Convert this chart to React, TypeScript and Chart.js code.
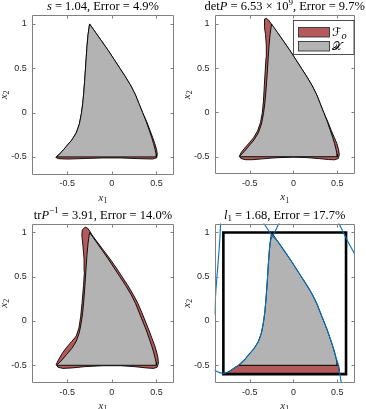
import React, { useEffect, useRef } from 'react';
import { Chart, registerables } from 'chart.js';

Chart.register(...registerables);

type Pt = [number, number];
type Run = { t: string; it?: boolean; sup?: boolean; sub?: boolean };

// ---------- axes / ticks ----------
const X_MIN = -0.9;
const X_MAX = 0.7;
const Y_MIN = -0.7;
const Y_MAX = 1.1;
const X_TICKS = [-0.5, 0, 0.5];
const Y_TICKS = [-0.5, 0, 0.5, 1];

// ---------- the set X (grey), same in every panel ----------
const SET_X: Pt[] = [
  [-0.25, 1.0], [-0.18, 0.9], [-0.11, 0.8], [-0.04, 0.7], [0.025, 0.6], [0.09, 0.5],
  [0.155, 0.4], [0.215, 0.3], [0.265, 0.2], [0.305, 0.1], [0.345, 0.0], [0.385, -0.1],
  [0.42, -0.2], [0.447, -0.28], [0.468, -0.35], [0.486, -0.42], [0.497, -0.47], [0.5, -0.5],
  [0.2, -0.5], [-0.2, -0.5], [-0.62, -0.5],
  [-0.56, -0.44], [-0.51, -0.38], [-0.45, -0.31], [-0.4, -0.23], [-0.365, -0.13],
  [-0.342, -0.01], [-0.327, 0.1], [-0.316, 0.22], [-0.306, 0.35], [-0.297, 0.48],
  [-0.288, 0.62], [-0.279, 0.75], [-0.267, 0.88], [-0.25, 1.0],
];

// ---------- outer approximations F_o (red) ----------
const FO_S: Pt[] = [
  [-0.25, 1.0], [-0.18, 0.9], [-0.11, 0.8], [-0.04, 0.7], [0.025, 0.6], [0.09, 0.5],
  [0.155, 0.4], [0.215, 0.3], [0.265, 0.2], [0.305, 0.1], [0.345, 0.0], [0.39, -0.1],
  [0.428, -0.2], [0.458, -0.28], [0.482, -0.35], [0.503, -0.42], [0.51, -0.47],
  [0.503, -0.51], [0.46, -0.524], [0.3, -0.52], [0.1, -0.512], [-0.1, -0.512],
  [-0.3, -0.518], [-0.5, -0.525], [-0.6, -0.52], [-0.63, -0.505],
  [-0.56, -0.44], [-0.51, -0.38], [-0.45, -0.31], [-0.4, -0.23], [-0.365, -0.13],
  [-0.342, -0.01], [-0.327, 0.1], [-0.316, 0.22], [-0.306, 0.35], [-0.297, 0.48],
  [-0.288, 0.62], [-0.279, 0.75], [-0.267, 0.88], [-0.25, 1.0],
];

const FO_DET: Pt[] = [
  [-0.31, 1.062], [-0.285, 1.045], [-0.26, 1.01], [-0.235, 0.97], [-0.21, 0.935],
  [-0.18, 0.9], [-0.11, 0.8], [-0.04, 0.7], [0.025, 0.6], [0.09, 0.5], [0.155, 0.4],
  [0.215, 0.3], [0.265, 0.2], [0.305, 0.1], [0.345, 0.0], [0.39, -0.1], [0.43, -0.2],
  [0.465, -0.28], [0.495, -0.35], [0.515, -0.42], [0.523, -0.48], [0.512, -0.52],
  [0.47, -0.535], [0.4, -0.532], [0.3, -0.522], [0.15, -0.51], [0.0, -0.505],
  [-0.2, -0.512], [-0.35, -0.524], [-0.47, -0.534], [-0.55, -0.534], [-0.6, -0.52],
  [-0.615, -0.49], [-0.595, -0.45], [-0.555, -0.4], [-0.505, -0.345], [-0.455, -0.285],
  [-0.41, -0.21], [-0.375, -0.11], [-0.355, 0.0], [-0.343, 0.12], [-0.333, 0.3],
  [-0.322, 0.48], [-0.313, 0.62], [-0.31, 0.76], [-0.319, 0.88], [-0.332, 0.97],
  [-0.335, 1.03], [-0.325, 1.055], [-0.31, 1.062],
];

const FO_TR: Pt[] = [
  [-0.3, 1.06], [-0.272, 1.048], [-0.245, 1.01], [-0.215, 0.96], [-0.17, 0.9],
  [-0.095, 0.8], [-0.02, 0.7], [0.05, 0.6], [0.115, 0.5], [0.18, 0.4], [0.24, 0.3],
  [0.292, 0.2], [0.335, 0.1], [0.375, 0.0], [0.415, -0.1], [0.452, -0.2], [0.482, -0.28],
  [0.503, -0.35], [0.518, -0.42], [0.523, -0.48], [0.508, -0.522], [0.47, -0.535],
  [0.39, -0.53], [0.25, -0.515], [0.1, -0.505], [-0.1, -0.505], [-0.3, -0.515],
  [-0.45, -0.53], [-0.55, -0.535], [-0.605, -0.522], [-0.625, -0.49], [-0.6, -0.44],
  [-0.56, -0.37], [-0.51, -0.3], [-0.45, -0.23], [-0.4, -0.17], [-0.37, -0.08],
  [-0.35, 0.05], [-0.335, 0.2], [-0.318, 0.4], [-0.308, 0.56], [-0.312, 0.7],
  [-0.325, 0.85], [-0.337, 0.97], [-0.332, 1.03], [-0.3, 1.06],
];

const FO_L1_STRIP: Pt[] = [
  [-0.8, -0.6], [0.53, -0.6], [0.515, -0.5], [-0.625, -0.5], [-0.66, -0.52],
  [-0.7, -0.548], [-0.75, -0.578], [-0.8, -0.6],
];
const FO_L1_TIP: Pt[] = [[-0.268, 1.0], [-0.212, 1.0], [-0.237, 0.96], [-0.268, 1.0]];
const FO_L1_CORNER: Pt[] = [[0.57, 1.0], [0.6, 1.0], [0.6, 0.94], [0.57, 1.0]];

// ---------- l1 panel: box and level curves ----------
const L1_BOX: Pt[] = [[-0.8, -0.6], [0.6, -0.6], [0.6, 1.0], [-0.8, 1.0], [-0.8, -0.6]];
const L1_CURVE_LEFT: Pt[] = [[-0.9, 0.08], [-0.885, 0.35], [-0.865, 0.6], [-0.845, 0.85], [-0.83, 1.12]];
const L1_CURVE_WEST: Pt[] = [
  [-0.95, -0.55], [-0.9, -0.56], [-0.85, -0.58], [-0.8, -0.59], [-0.75, -0.578],
  [-0.7, -0.548], [-0.66, -0.52], [-0.625, -0.495], [-0.56, -0.44], [-0.51, -0.38],
  [-0.45, -0.31], [-0.4, -0.23], [-0.365, -0.13], [-0.342, -0.01], [-0.327, 0.1],
  [-0.316, 0.22], [-0.306, 0.35], [-0.297, 0.48], [-0.288, 0.62], [-0.279, 0.75],
  [-0.267, 0.88], [-0.245, 0.95], [-0.2, 1.03], [-0.16, 1.12],
];
const L1_CURVE_EAST: Pt[] = [
  [-0.35, 1.12], [-0.29, 1.03], [-0.235, 0.955], [-0.18, 0.9], [-0.11, 0.8],
  [-0.04, 0.7], [0.025, 0.6], [0.09, 0.5], [0.155, 0.4], [0.215, 0.3], [0.265, 0.2],
  [0.305, 0.1], [0.345, 0.0], [0.385, -0.1], [0.42, -0.2], [0.447, -0.28], [0.468, -0.35],
  [0.488, -0.42], [0.505, -0.47], [0.515, -0.52], [0.53, -0.6], [0.55, -0.72],
];
const L1_CURVE_RIGHT: Pt[] = [[0.51, 1.12], [0.57, 1.0], [0.63, 0.88], [0.68, 0.79], [0.72, 0.71]];

// ---------- texts ----------
const TITLE_S: Run[] = [{ t: 's', it: true }, { t: ' = 1.04, Error = 4.9%' }];
const TITLE_DET: Run[] = [
  { t: 'det' }, { t: 'P', it: true }, { t: ' = 6.53 × 10' }, { t: '9', sup: true },
  { t: ', Error = 9.7%' },
];
const TITLE_TR: Run[] = [
  { t: 'tr' }, { t: 'P', it: true }, { t: '−1', sup: true }, { t: ' = 3.91, Error = 14.0%' },
];
const TITLE_L1: Run[] = [{ t: 'l', it: true }, { t: '1', sub: true }, { t: ' = 1.68, Error = 17.7%' }];
const X_LABEL: Run[] = [{ t: 'x', it: true }, { t: '1', sub: true }];
const Y_LABEL: Run[] = [{ t: 'x', it: true }, { t: '2', sub: true }];
const LEGEND_FO: Run[] = [{ t: 'ℱ' }, { t: 'o', sub: true, it: true }];
const LEGEND_X: Run[] = [{ t: '𝒳' }];

// ---------- styles ----------
const RED = '#b55a5a';
const GREY = '#b3b3b3';
const BLUE = '#0072bd';
const AXIS = '#808080';
const SERIF = '"Liberation Serif", "Times New Roman", serif';
const SANS = '"Liberation Sans", Arial, sans-serif';
const W = 366;
const H = 409;

type Area = { left: number; top: number; right: number; bottom: number };
type PanelCfg = { area: Area; title: Run[]; datasets: any[]; legend?: boolean };

function runFont(r: Run, size: number, family: string) {
  const s = r.sup || r.sub ? size * 0.72 : size;
  return `${r.it ? 'italic ' : ''}${s}px ${family}`;
}
function runsWidth(ctx: CanvasRenderingContext2D, runs: Run[], size: number, family: string) {
  let w = 0;
  for (const r of runs) {
    ctx.font = runFont(r, size, family);
    w += ctx.measureText(r.t).width;
  }
  return w;
}
function drawRuns(
  ctx: CanvasRenderingContext2D, runs: Run[], x: number, y: number, size: number,
  family: string, align: 'center' | 'left', color: string,
) {
  let cx = align === 'center' ? x - runsWidth(ctx, runs, size, family) / 2 : x;
  ctx.fillStyle = color;
  ctx.textAlign = 'left';
  ctx.textBaseline = 'alphabetic';
  for (const r of runs) {
    ctx.font = runFont(r, size, family);
    const dy = r.sup ? -size * 0.42 : r.sub ? size * 0.22 : 0;
    ctx.fillText(r.t, cx, y + dy);
    cx += ctx.measureText(r.t).width;
  }
}

const pts = (a: Pt[]) => a.map(([x, y]) => ({ x, y }));
function patch(a: Pt[], color: string, order: number) {
  return {
    data: pts(a), showLine: true, fill: 'shape', backgroundColor: color,
    borderColor: '#000', borderWidth: 0.9, pointRadius: 0, tension: 0, order,
    borderJoinStyle: 'round',
  };
}
function curve(a: Pt[], color: string, width: number, order: number, tension = 0.2) {
  return {
    data: pts(a), showLine: true, fill: false, borderColor: color, borderWidth: width,
    pointRadius: 0, tension, order, borderCapStyle: 'square', borderJoinStyle: 'miter',
  };
}

const PANELS: PanelCfg[] = [
  {
    area: { left: 31.7, top: 15.1, right: 174.2, bottom: 174.6 },
    title: TITLE_S,
    datasets: [patch(SET_X, GREY, 2), patch(FO_S, RED, 3)],
  },
  {
    area: { left: 214.6, top: 15.1, right: 354.8, bottom: 174.4 },
    title: TITLE_DET,
    legend: true,
    datasets: [patch(SET_X, GREY, 2), patch(FO_DET, RED, 3)],
  },
  {
    area: { left: 31.7, top: 223.6, right: 174.2, bottom: 383 },
    title: TITLE_TR,
    datasets: [patch(SET_X, GREY, 2), patch(FO_TR, RED, 3)],
  },
  {
    area: { left: 214.6, top: 223.6, right: 354.8, bottom: 383 },
    title: TITLE_L1,
    datasets: [
      curve(L1_CURVE_LEFT, BLUE, 1.1, 0),
      curve(L1_CURVE_WEST, BLUE, 1.1, 0),
      curve(L1_CURVE_EAST, BLUE, 1.1, 0),
      curve(L1_CURVE_RIGHT, BLUE, 1.1, 0),
      curve(L1_BOX, '#000', 2.6, 1, 0),
      patch(SET_X, GREY, 2),
      patch(FO_L1_STRIP, RED, 3),
      patch(FO_L1_TIP, RED, 3),
      patch(FO_L1_CORNER, RED, 3),
    ],
  },
];

function makeDecor(cfg: PanelCfg) {
  return {
    id: 'decor',
    afterDraw(chart: any) {
      const ctx: CanvasRenderingContext2D = chart.ctx;
      const { left, top, right, bottom } = chart.chartArea;
      const xs = chart.scales.x;
      const ys = chart.scales.y;
      ctx.save();
      // box
      const L = Math.round(left) + 0.5;
      const R = Math.round(right) - 0.5;
      const T = Math.round(top) + 0.5;
      const B = Math.round(bottom) - 0.5;
      ctx.strokeStyle = AXIS;
      ctx.lineWidth = 1;
      ctx.beginPath();
      ctx.rect(L, T, R - L, B - T);
      ctx.stroke();
      // inward ticks
      const tl = 3;
      ctx.beginPath();
      for (const v of X_TICKS) {
        const px = Math.round(xs.getPixelForValue(v)) + 0.5;
        ctx.moveTo(px, B); ctx.lineTo(px, B - tl);
        ctx.moveTo(px, T); ctx.lineTo(px, T + tl);
      }
      for (const v of Y_TICKS) {
        const py = Math.round(ys.getPixelForValue(v)) + 0.5;
        ctx.moveTo(L, py); ctx.lineTo(L + tl, py);
        ctx.moveTo(R, py); ctx.lineTo(R - tl, py);
      }
      ctx.stroke();
      // title
      drawRuns(ctx, cfg.title, (left + right) / 2, top - 5, 12.5, SERIF, 'center', '#000');
      // axis labels
      drawRuns(ctx, X_LABEL, (left + right) / 2, bottom + 26, 11, SERIF, 'center', '#262626');
      ctx.save();
      ctx.translate(left - 25, (top + bottom) / 2);
      ctx.rotate(-Math.PI / 2);
      drawRuns(ctx, Y_LABEL, 0, 0, 11, SERIF, 'center', '#262626');
      ctx.restore();
      // legend
      if (cfg.legend) {
        const bx = 293.5, by = 20.5, bw = 60.5, bh = 34;
        ctx.fillStyle = '#fff';
        ctx.fillRect(bx, by, bw, bh);
        ctx.strokeStyle = '#262626';
        ctx.lineWidth = 0.8;
        ctx.strokeRect(bx, by, bw, bh);
        const sw = [[RED, 27.5, LEGEND_FO], [GREY, 41.5, LEGEND_X]] as const;
        for (const [col, sy, runs] of sw) {
          ctx.fillStyle = col as string;
          ctx.fillRect(298.5, sy as number, 31, 9.5);
          ctx.strokeStyle = '#333';
          ctx.lineWidth = 0.9;
          ctx.strokeRect(298.5, sy as number, 31, 9.5);
          drawRuns(ctx, runs as Run[], 332, (sy as number) + 8.5, 12, '"DejaVu Serif", "DejaVu Sans", serif', 'left', '#000');
        }
      }
      ctx.restore();
    },
  };
}

function buildConfig(cfg: PanelCfg): any {
  const { area } = cfg;
  const yW = 28;
  const xH = 20;
  return {
    type: 'scatter',
    data: { datasets: cfg.datasets },
    options: {
      animation: false,
      responsive: false,
      devicePixelRatio: 1,
      events: [],
      layout: {
        padding: {
          left: area.left - yW,
          top: area.top,
          right: W - area.right,
          bottom: H - area.bottom - xH,
        },
      },
      plugins: { legend: { display: false }, tooltip: { enabled: false }, title: { display: false } },
      scales: {
        x: {
          type: 'linear', min: X_MIN, max: X_MAX,
          grid: { display: false, drawTicks: false }, border: { display: false },
          afterBuildTicks: (s: any) => { s.ticks = X_TICKS.map((value) => ({ value })); },
          afterFit: (s: any) => { s.height = xH; },
          ticks: {
            autoSkip: false, maxRotation: 0, padding: 4, color: '#262626',
            font: { family: SANS, size: 9 }, callback: (v: any) => String(v),
          },
        },
        y: {
          type: 'linear', min: Y_MIN, max: Y_MAX,
          grid: { display: false, drawTicks: false }, border: { display: false },
          afterBuildTicks: (s: any) => { s.ticks = Y_TICKS.map((value) => ({ value })); },
          afterFit: (s: any) => { s.width = yW; },
          ticks: {
            autoSkip: false, padding: 5, color: '#262626',
            font: { family: SANS, size: 9 }, callback: (v: any) => String(v),
          },
        },
      },
    },
    plugins: [makeDecor(cfg)],
  };
}

function Panel({ cfg }: { cfg: PanelCfg }) {
  const ref = useRef<HTMLCanvasElement>(null);
  useEffect(() => {
    const chart = new Chart(ref.current as HTMLCanvasElement, buildConfig(cfg));
    return () => chart.destroy();
  }, [cfg]);
  return (
    <canvas
      ref={ref}
      width={W}
      height={H}
      style={{ position: 'absolute', left: 0, top: 0, width: W, height: H }}
    />
  );
}

export default function App() {
  return (
    <div style={{ position: 'fixed', left: 0, top: 0, width: W, height: H, background: '#fff', overflow: 'hidden' }}>
      {PANELS.map((p, i) => (
        <Panel key={i} cfg={p} />
      ))}
    </div>
  );
}
